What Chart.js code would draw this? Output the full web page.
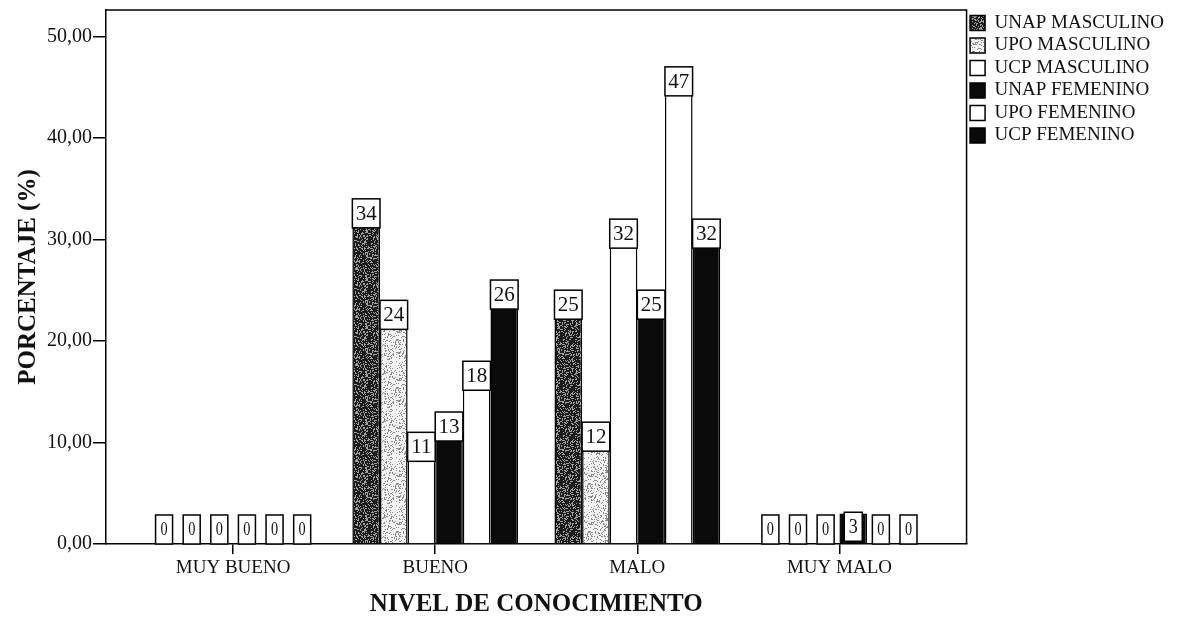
<!DOCTYPE html>
<html>
<head>
<meta charset="utf-8">
<script src="https://cdn.jsdelivr.net/npm/chart.js@4"></script>
<style>
  html, body { margin: 0; padding: 0; background: #fff; }
  #wrap { width: 1186px; height: 620px; }
</style>
</head>
<body>
<div id="wrap"><canvas id="chart" width="1186" height="620"></canvas></div>
<script>
// Knowledge level categories (x axis)
const categories = ['MUY BUENO', 'BUENO', 'MALO', 'MUY MALO'];

// Percentage per group, one value per category
const unapMasculino = [0, 34, 25, 0];
const upoMasculino  = [0, 24, 12, 0];
const ucpMasculino  = [0, 11, 32, 0];
const unapFemenino  = [0, 13, 25, 3];
const upoFemenino   = [0, 18, 47, 0];
const ucpFemenino   = [0, 26, 32, 0];

const seriesNames = ['UNAP MASCULINO', 'UPO MASCULINO', 'UCP MASCULINO',
                     'UNAP FEMENINO', 'UPO FEMENINO', 'UCP FEMENINO'];

// y axis tick values
const yTicks = [0, 10, 20, 30, 40, 50];

const SERIF = '"Liberation Serif", "Times New Roman", serif';

// Stippled fill used for the textured bars (deterministic speckle)
function stipple(base, speck, density) {
  const c = document.createElement('canvas');
  c.width = c.height = 48;
  const g = c.getContext('2d');
  g.fillStyle = base;
  g.fillRect(0, 0, 48, 48);
  g.fillStyle = speck;
  for (let py = 0; py < 48; py++) {
    for (let px = 0; px < 48; px++) {
      let h = Math.imul(px + 1, 374761393) ^ Math.imul(py + 7, 668265263);
      h = Math.imul(h ^ (h >>> 13), 1274126177);
      h = (h ^ (h >>> 16)) >>> 0;
      if (h % 100 < density) g.fillRect(px, py, 1, 1);
    }
  }
  return g.createPattern(c, 'repeat');
}

const fills = [
  stipple('#1c1c1c', '#a0a0a0', 30),
  stipple('#f2f2f2', '#8a8a8a', 22),
  '#ffffff',
  '#0a0a0a',
  '#ffffff',
  '#0a0a0a'
];

const seriesValues = [unapMasculino, upoMasculino, ucpMasculino,
                      unapFemenino, upoFemenino, ucpFemenino];

const datasets = seriesValues.map((vals, i) => ({
  label: seriesNames[i],
  data: vals.map((v, j) => ({ x: j, y: v })),
  backgroundColor: fills[i],
  borderColor: '#000',
  borderWidth: 1.5,
  categoryPercentage: 0.82,
  barPercentage: 1.0
}));

// White value boxes on top of each bar; short bars get a narrow box on the axis
const valueBoxes = {
  id: 'valueBoxes',
  afterDatasetsDraw(chart) {
    const ctx = chart.ctx;
    const boxH = 29;
    ctx.save();
    chart.data.datasets.forEach((ds, i) => {
      const meta = chart.getDatasetMeta(i);
      meta.data.forEach((el, j) => {
        const v = seriesValues[i][j];
        const p = el.getProps(['x', 'y', 'base', 'width'], true);
        let bx, by, bw, fontPx, sx;
        if (p.base - p.y >= boxH + 20) {
          bw = p.width; bx = p.x - bw / 2; by = p.y; fontPx = 21; sx = 1;
        } else if (v > 0) {
          bw = 18; bx = p.x - bw / 2; by = p.base - boxH - 2; fontPx = 20; sx = 0.9;
        } else {
          bw = 17; bx = p.x - bw / 2; by = p.base - boxH; fontPx = 19; sx = 0.75;
        }
        ctx.fillStyle = '#fff';
        ctx.fillRect(bx, by, bw, boxH);
        ctx.strokeStyle = '#000';
        ctx.lineWidth = 1.5;
        ctx.strokeRect(bx, by, bw, boxH);
        ctx.save();
        ctx.translate(p.x, by + boxH / 2 + 1);
        ctx.scale(sx, 1);
        ctx.fillStyle = '#111';
        ctx.font = fontPx + 'px ' + SERIF;
        ctx.textAlign = 'center';
        ctx.textBaseline = 'middle';
        ctx.fillText(String(v), 0, 0);
        ctx.restore();
      });
    });
    ctx.restore();
  }
};

// Top and right edges of the plot frame
const frame = {
  id: 'frame',
  afterDraw(chart) {
    const { left, right, top, bottom } = chart.chartArea;
    const ctx = chart.ctx;
    ctx.save();
    ctx.strokeStyle = '#000';
    ctx.lineWidth = 1.5;
    ctx.beginPath();
    ctx.moveTo(left, top);
    ctx.lineTo(right, top);
    ctx.lineTo(right, bottom);
    ctx.stroke();
    ctx.restore();
  }
};

new Chart(document.getElementById('chart'), {
  type: 'bar',
  data: { datasets },
  options: {
    responsive: false,
    animation: false,
    layout: { padding: { top: 10, right: 12, bottom: 0, left: 0 } },
    plugins: {
      tooltip: { enabled: false },
      legend: {
        position: 'right',
        align: 'start',
        labels: {
          boxWidth: 15,
          boxHeight: 15,
          padding: 3.5,
          color: '#111',
          font: { family: SERIF, size: 19 }
        }
      }
    },
    scales: {
      x: {
        type: 'linear',
        offset: false,
        min: -0.629,
        max: 3.629,
        afterBuildTicks: (scale) => {
          scale.ticks = categories.map((_, i) => ({ value: i }));
        },
        afterFit: (scale) => {
          scale.height = 76;
          scale.paddingLeft = 0;
          scale.paddingRight = 0;
        },
        ticks: {
          callback: (v) => categories[v] ?? '',
          color: '#111',
          font: { family: SERIF, size: 19 },
          padding: 3,
          maxRotation: 0
        },
        grid: {
          offset: false,
          drawOnChartArea: false,
          drawTicks: true,
          tickLength: 10,
          color: '#000',
          lineWidth: 1.5
        },
        border: { display: true, color: '#000', width: 1.5 },
        title: {
          display: true,
          text: 'NIVEL DE CONOCIMIENTO',
          color: '#111',
          font: { family: SERIF, size: 25, weight: 'bold' },
          padding: { top: 0, bottom: 0 }
        }
      },
      y: {
        min: 0,
        max: 52.6,
        afterBuildTicks: (scale) => {
          scale.ticks = yTicks.map(v => ({ value: v }));
        },
        afterFit: (scale) => {
          scale.width = 106;
          scale.paddingTop = 0;
          scale.paddingBottom = 0;
        },
        ticks: {
          callback: (v) => v.toFixed(2).replace('.', ','),
          color: '#111',
          font: { family: SERIF, size: 20 },
          padding: 1
        },
        grid: {
          drawOnChartArea: false,
          drawTicks: true,
          tickLength: 13,
          color: '#000',
          lineWidth: 1.5
        },
        border: { display: true, color: '#000', width: 1.5 },
        title: {
          display: true,
          text: 'PORCENTAJE (%)',
          color: '#111',
          font: { family: SERIF, size: 25, weight: 'bold' },
          padding: { top: 14, bottom: 0 }
        }
      }
    }
  },
  plugins: [valueBoxes, frame]
});
</script>
</body>
</html>
